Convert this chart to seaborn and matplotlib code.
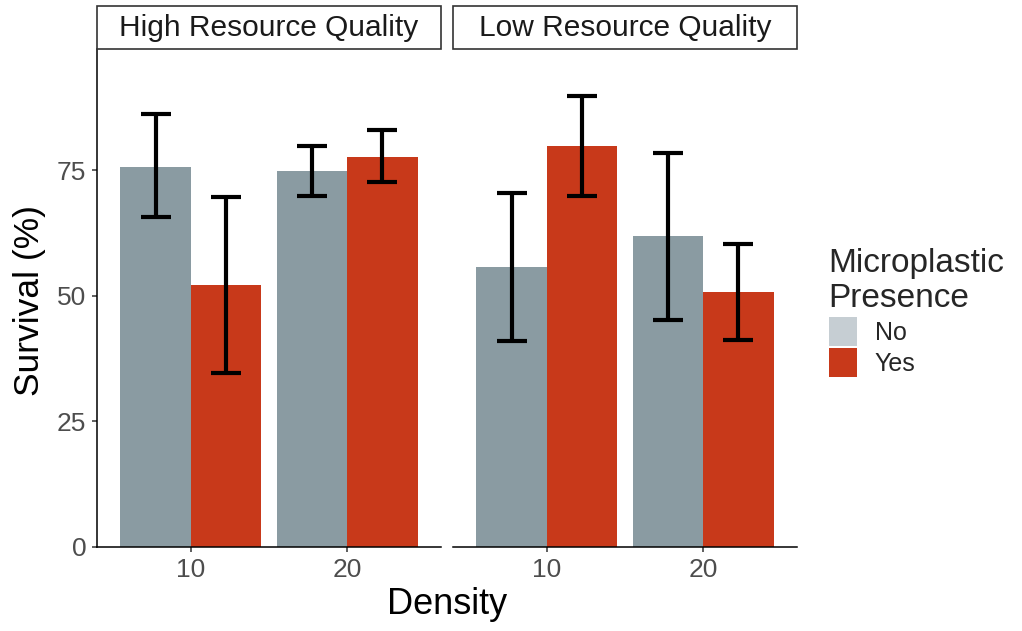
import numpy as np
import pandas as pd
import seaborn as sns
import matplotlib
matplotlib.use("Agg")
import matplotlib.pyplot as plt
from matplotlib.patches import Patch, Rectangle

# ---- data ----
panels = ["High Resource Quality", "Low Resource Quality"]
densities = ["10", "20"]
presence_levels = ["No", "Yes"]

quality = ["High Resource Quality"] * 4 + ["Low Resource Quality"] * 4
density = ["10", "10", "20", "20", "10", "10", "20", "20"]
presence = ["No", "Yes", "No", "Yes", "No", "Yes", "No", "Yes"]
survival = [75.6, 52.2, 74.8, 77.6, 55.8, 79.8, 61.8, 50.8]
err_low = [65.6, 34.7, 69.8, 72.6, 41.0, 69.8, 45.2, 41.2]
err_high = [86.1, 69.7, 79.8, 83.0, 70.4, 89.7, 78.4, 60.3]

bar_colors = {"No": "#8A9BA2", "Yes": "#C8391A"}
legend_colors = {"No": "#C6CED3", "Yes": "#C8391A"}

df = pd.DataFrame({"Quality": quality, "Density": density, "Presence": presence,
                   "Survival": survival, "Low": err_low, "High": err_high})

sns.set_theme(style="white")
plt.rcParams["font.family"] = ["Liberation Sans", "DejaVu Sans"]

fig = plt.figure(figsize=(10.22, 6.31), dpi=100)
W, H = 1022, 631
ax_bottom = 1 - 547 / H
ax_top = 1 - 49 / H
ax_h = ax_top - ax_bottom
lefts = [97 / W, 453 / W]
width = 344 / W
axes = [fig.add_axes([l, ax_bottom, width, ax_h]) for l in lefts]

dodge = {"No": -0.225, "Yes": 0.225}
strip_h = 43 / 498

for i, (ax, pan) in enumerate(zip(axes, panels)):
    sub = df[df["Quality"] == pan]
    sns.barplot(data=sub, x="Density", y="Survival", hue="Presence",
                order=densities, hue_order=presence_levels, palette=bar_colors,
                width=0.9, gap=0, errorbar=None, saturation=1, linewidth=0,
                legend=False, ax=ax)
    for _, r in sub.iterrows():
        xc = densities.index(r["Density"]) + dodge[r["Presence"]]
        ax.errorbar([xc], [r["Survival"]],
                    yerr=[[r["Survival"] - r["Low"]], [r["High"] - r["Survival"]]],
                    fmt="none", ecolor="black", elinewidth=3.0, capsize=11,
                    capthick=3.0, zorder=5)
    ax.set_xlim(-0.6, 1.6)
    ax.set_ylim(0, 99.1)
    ax.set_yticks([0, 25, 50, 75])
    ax.set_xlabel("")
    ax.set_ylabel("")
    for s in ["top", "right"]:
        ax.spines[s].set_visible(False)
    ax.spines["bottom"].set_color("black")
    ax.spines["bottom"].set_linewidth(1.1)
    ax.spines["left"].set_color("black")
    ax.spines["left"].set_linewidth(1.1)
    ax.tick_params(axis="both", which="both", length=3.6, width=1.1,
                   color="#333333", labelcolor="#4D4D4D", labelsize=19, pad=4)
    ax.tick_params(axis="x", bottom=True)
    ax.tick_params(axis="y", left=True)
    if i == 1:
        ax.spines["left"].set_visible(False)
        ax.tick_params(axis="y", left=False, labelleft=False)
    # strip
    ax.add_patch(Rectangle((0, 1.0), 1, strip_h, transform=ax.transAxes,
                           facecolor="white", edgecolor="#333333", linewidth=1.2,
                           clip_on=False, zorder=10))
    ax.text(0.5, 1 + strip_h / 2, pan, transform=ax.transAxes, ha="center",
            va="center", fontsize=21.5, color="#1A1A1A", zorder=11)

fig.text(30 / W, 1 - 301 / H, "Survival (%)", rotation=90, ha="center",
         va="center", fontsize=25.5, color="black")
fig.text(447 / W, 1 - 605 / H, "Density", ha="center", va="center",
         fontsize=26, color="black")

handles = [Patch(facecolor=legend_colors[k], edgecolor="none", label=k)
           for k in presence_levels]
leg = fig.legend(handles=handles, title="Microplastic\nPresence",
                 loc="upper left", bbox_to_anchor=(806 / W, 1 - 225 / H),
                 frameon=False, fontsize=18, title_fontsize=24,
                 handlelength=1.12, handleheight=1.4, handletextpad=0.72,
                 labelspacing=0.1, alignment="left")

fig.savefig("out.png", dpi=100)
